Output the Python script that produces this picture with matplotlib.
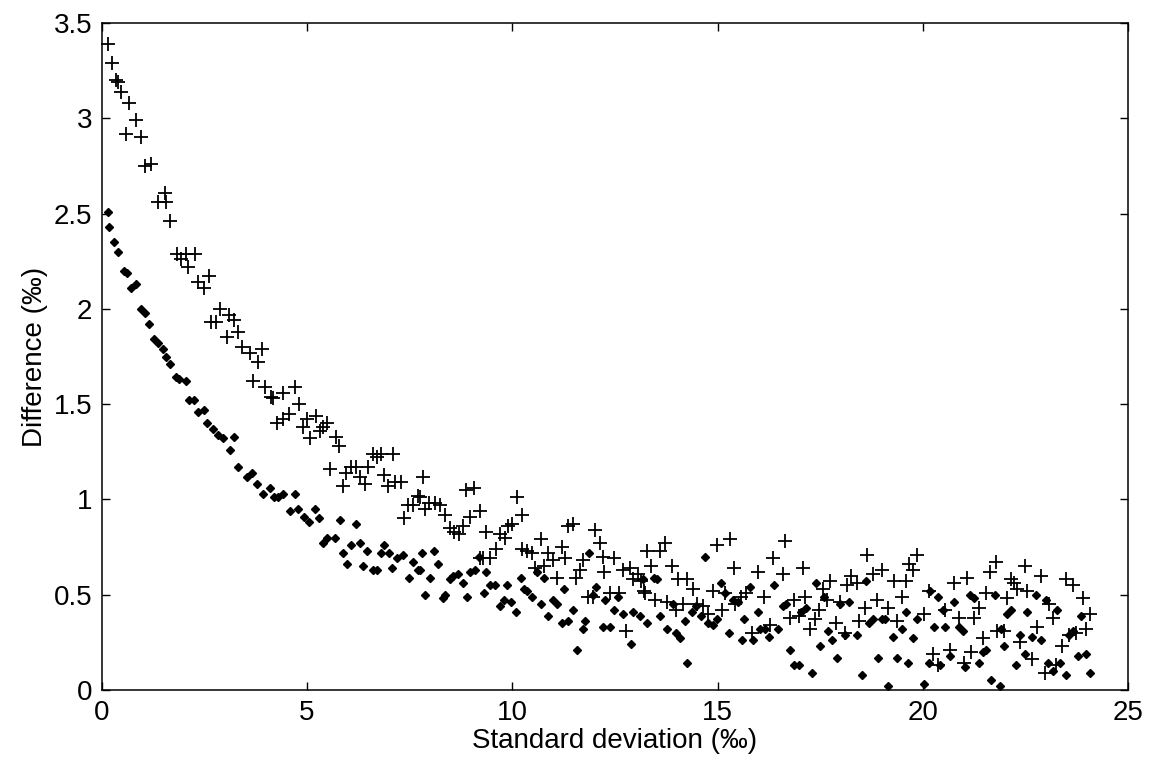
import matplotlib.pyplot as plt

# "+" series
plus_x = [0.15, 0.25, 0.35, 0.40, 0.47, 0.66, 0.84, 0.59, 0.95, 1.04, 1.19, 1.53, 1.37, 1.57, 1.65,
          1.83, 2.04, 2.26, 1.92, 2.10, 2.35, 2.48, 2.61, 2.88, 3.10, 3.23, 2.65, 2.79, 3.05, 3.32, 3.41,
          3.61, 3.91, 3.81, 3.69, 3.97, 4.13, 4.17, 4.42, 4.70, 4.81, 4.27, 4.42, 4.57, 4.91, 4.99, 5.22,
          5.07, 5.31, 5.39, 5.49, 5.70, 5.78, 5.57, 5.88, 5.96, 6.08, 6.19, 6.49, 6.29, 6.41, 6.60, 6.70,
          6.79, 7.10, 6.87, 6.98, 7.14, 7.30, 7.36, 7.47, 7.59, 7.71,
          7.83, 7.75, 7.87, 7.97, 8.11, 8.25, 8.36, 8.48, 8.58, 8.71, 8.81, 8.87, 9.07, 8.97, 9.21, 9.37,
          9.28, 9.45, 9.21, 9.60, 9.70, 9.82, 9.90, 10.0, 10.11, 10.23, 10.23, 10.35, 10.47, 10.55, 10.69,
          10.77, 10.88, 11.0, 11.08, 11.2, 11.28, 11.36, 11.48, 11.55, 11.65, 11.73, 11.85, 11.96,
          12.01, 12.13, 12.21, 12.23, 12.48, 12.38, 12.60, 12.69, 12.87, 12.95, 13.07, 13.13, 13.21, 13.28,
          13.37, 13.48, 13.60, 13.72, 13.78, 13.88, 13.99, 14.04, 14.16, 14.26, 14.41, 14.50, 14.65, 14.77,
          14.88, 14.98, 15.10, 15.18, 15.30, 15.40, 15.42, 15.58, 15.70, 15.85, 15.99, 12.77, 13.24,
          16.13, 16.36, 16.59, 16.64, 16.28, 16.85, 16.77, 16.99, 17.13, 17.07, 17.25, 17.37, 17.48, 17.56,
          17.66, 17.74, 17.88, 17.98, 18.10, 18.16, 18.26, 18.39, 18.45, 18.59, 18.65, 18.78, 18.88, 19.0,
          19.16, 19.29, 19.37, 19.49, 19.58, 19.66, 19.76, 19.87, 20.02, 20.16,
          20.26, 20.38, 20.54, 20.66, 20.76, 20.89, 21.0, 21.07, 21.17, 21.25, 21.38, 21.47, 21.54, 21.64,
          21.78, 21.80, 21.98, 22.06, 22.14, 22.22, 22.29, 22.37, 22.49, 22.54, 22.67, 22.77, 22.89, 22.98,
          23.08, 23.18, 23.24, 23.38, 23.48, 23.57, 23.66, 23.74, 23.89, 23.97, 24.07]
plus_y = [3.39, 3.29, 3.20, 3.19, 3.14, 3.08, 2.99, 2.92, 2.90, 2.75, 2.76, 2.61, 2.56, 2.56, 2.46,
          2.29, 2.29, 2.29, 2.26, 2.22, 2.14, 2.11, 2.17, 2.00, 1.97, 1.94, 1.93, 1.93, 1.85, 1.88, 1.80,
          1.77, 1.79, 1.72, 1.62, 1.59, 1.54, 1.53, 1.56, 1.59, 1.50, 1.40, 1.42, 1.45, 1.38, 1.42, 1.44,
          1.32, 1.36, 1.38, 1.40, 1.33, 1.28, 1.16, 1.07, 1.14, 1.17, 1.17, 1.17, 1.12, 1.08, 1.24, 1.22,
          1.24, 1.24, 1.13, 1.07, 1.09, 1.09, 0.90, 0.97, 0.97, 1.02,
          1.12, 1.01, 0.95, 0.98, 0.98, 0.97, 0.92, 0.85, 0.83, 0.82, 0.86, 1.05, 1.06, 0.91, 0.94, 0.83,
          0.69, 0.69, 0.69, 0.74, 0.82, 0.80, 0.86, 0.87, 1.01, 0.92, 0.74, 0.73, 0.72, 0.64, 0.79,
          0.65, 0.72, 0.68, 0.59, 0.75, 0.69, 0.86, 0.87, 0.59, 0.63, 0.68, 0.49, 0.49,
          0.84, 0.77, 0.70, 0.62, 0.69, 0.51, 0.51, 0.63, 0.64, 0.58, 0.61, 0.57, 0.52, 0.73,
          0.65, 0.47, 0.73, 0.77, 0.46, 0.65, 0.42, 0.58, 0.45, 0.58, 0.53, 0.45, 0.44, 0.40,
          0.52, 0.76, 0.42, 0.51, 0.79, 0.64, 0.45, 0.49, 0.51, 0.30, 0.62, 0.31, 0.51,
          0.49, 0.69, 0.61, 0.78, 0.34, 0.47, 0.38, 0.39, 0.49, 0.64, 0.32, 0.37, 0.42, 0.53,
          0.47, 0.57, 0.35, 0.46, 0.30, 0.55, 0.60, 0.56, 0.36, 0.43, 0.71, 0.61, 0.47, 0.63,
          0.43, 0.57, 0.36, 0.49, 0.57, 0.66, 0.63, 0.71, 0.40, 0.52,
          0.19, 0.13, 0.42, 0.21, 0.56, 0.38, 0.14, 0.59, 0.20, 0.38, 0.43, 0.27, 0.51, 0.62,
          0.67, 0.31, 0.31, 0.48, 0.58, 0.56, 0.53, 0.25, 0.65, 0.52, 0.16, 0.33, 0.60, 0.09,
          0.45, 0.38, 0.13, 0.23, 0.58, 0.29, 0.55, 0.30, 0.48, 0.32, 0.40]

# filled diamond series
dot_x = [0.15, 0.18, 0.29, 0.40, 0.53, 0.62, 0.71, 0.84, 0.95, 1.04, 1.15, 1.27, 1.37, 1.48, 1.57,
         1.65, 1.80, 1.88, 2.04, 2.12, 2.24, 2.35, 2.48, 2.57, 2.70, 2.83, 2.96, 3.12, 3.21, 3.32, 3.54,
         3.67, 3.79, 3.93, 4.10, 4.19, 4.30, 4.42, 4.70, 4.58, 4.78, 4.92, 5.05, 5.19, 5.30, 5.80, 6.19,
         5.38, 5.49, 5.68, 5.88, 6.08, 6.29, 5.98, 6.37, 6.47, 6.60, 6.70, 6.87, 6.81, 7.00, 7.08, 7.18,
         7.33, 7.49, 7.59, 7.71,
         7.81, 7.75, 7.87, 7.99, 8.09, 8.20, 8.30, 8.36, 8.48, 8.56, 8.68, 8.81, 8.89, 8.97, 9.09, 9.19,
         9.31, 9.37, 9.45, 9.57, 9.70, 9.80, 9.88, 9.98, 10.09, 10.20, 10.28, 10.36, 10.49, 10.59, 10.69,
         10.77, 10.88, 10.98, 11.08, 11.20, 11.36, 11.26, 11.48, 11.58, 11.71, 11.77, 11.88,
         11.97, 12.05, 12.25, 12.21, 12.38, 12.48, 12.58, 12.70, 12.88, 12.95, 13.10, 13.19, 13.29,
         13.45, 13.52, 13.60, 13.76, 13.91, 13.99, 14.09, 14.21, 14.26, 14.37, 14.47, 14.59, 14.70, 14.77,
         14.88, 14.98, 15.08, 15.18, 15.29, 15.38, 15.50, 15.59, 15.65, 15.78, 15.87, 15.99,
         16.03, 16.15, 16.26, 16.37, 16.48, 16.59, 16.67, 16.77, 16.87, 16.98, 17.04, 17.15, 17.29, 17.40,
         17.50, 17.60, 17.68, 17.78, 17.91, 17.99, 18.11, 18.21, 18.40, 18.52, 18.62, 18.68, 18.78, 18.91,
         19.00, 19.08, 19.16, 19.27, 19.37, 19.49, 19.59, 19.65, 19.77, 19.87, 20.02, 20.16,
         20.18, 20.38, 20.28, 20.42, 20.50, 20.54, 20.66, 20.76, 20.87, 20.98, 21.03, 21.15, 21.24, 21.38,
         21.47, 21.54, 21.65, 21.76, 21.87, 21.90, 21.98, 22.06, 22.14, 22.28, 22.37, 22.49, 22.54, 22.65,
         22.75, 22.89, 22.99, 23.05, 23.18, 23.26, 23.35, 23.48, 23.57, 23.66, 23.78, 23.86, 23.98, 24.07]
dot_y = [2.51, 2.43, 2.35, 2.30, 2.20, 2.19, 2.11, 2.13, 2.00, 1.98, 1.92, 1.84, 1.82, 1.79, 1.75,
         1.71, 1.64, 1.63, 1.62, 1.52, 1.52, 1.46, 1.47, 1.40, 1.37, 1.34, 1.32, 1.26, 1.33, 1.17, 1.12,
         1.14, 1.08, 1.03, 1.06, 1.01, 1.01, 1.03, 1.03, 0.94, 0.95, 0.91, 0.88, 0.95, 0.90, 0.89, 0.87,
         0.77, 0.80, 0.80, 0.72, 0.76, 0.77, 0.66, 0.65, 0.73, 0.63, 0.63, 0.76, 0.72, 0.72, 0.64, 0.69,
         0.71, 0.59, 0.67, 0.63,
         0.72, 0.63, 0.50, 0.59, 0.73, 0.66, 0.48, 0.50, 0.58, 0.60, 0.61, 0.56, 0.49, 0.62, 0.63, 0.70,
         0.51, 0.62, 0.55, 0.55, 0.44, 0.47, 0.55, 0.46, 0.41, 0.59, 0.53, 0.52, 0.49, 0.62, 0.45,
         0.59, 0.39, 0.47, 0.45, 0.35, 0.36, 0.53, 0.42, 0.21, 0.32, 0.36, 0.72,
         0.50, 0.54, 0.47, 0.33, 0.33, 0.42, 0.49, 0.40, 0.24, 0.41, 0.39, 0.58, 0.35,
         0.59, 0.58, 0.39, 0.32, 0.45, 0.30, 0.27, 0.36, 0.14, 0.41, 0.44, 0.39, 0.70, 0.35,
         0.34, 0.37, 0.56, 0.51, 0.30, 0.47, 0.46, 0.26, 0.37, 0.54, 0.26, 0.41,
         0.32, 0.32, 0.28, 0.55, 0.32, 0.44, 0.45, 0.21, 0.13, 0.13, 0.41, 0.43, 0.09, 0.56,
         0.23, 0.49, 0.31, 0.26, 0.17, 0.45, 0.29, 0.46, 0.29, 0.08, 0.57, 0.35, 0.37, 0.17,
         0.37, 0.37, 0.02, 0.28, 0.17, 0.32, 0.41, 0.14, 0.27, 0.37, 0.03, 0.14,
         0.52, 0.49, 0.33, 0.13, 0.42, 0.33, 0.18, 0.46, 0.33, 0.31, 0.12, 0.50, 0.48, 0.14,
         0.20, 0.21, 0.05, 0.50, 0.02, 0.32, 0.23, 0.40, 0.42, 0.13, 0.29, 0.19, 0.41, 0.28,
         0.50, 0.26, 0.47, 0.14, 0.10, 0.42, 0.14, 0.08, 0.29, 0.31, 0.18, 0.39, 0.19, 0.09]

x_ticks = [0, 5, 10, 15, 20, 25]
y_ticks = [0, 0.5, 1, 1.5, 2, 2.5, 3, 3.5]
y_tick_labels = ['0', '0.5', '1', '1.5', '2', '2.5', '3', '3.5']

plt.rcParams['font.family'] = ['Liberation Sans', 'DejaVu Sans']

fig = plt.figure(figsize=(11.57, 7.70), dpi=100)
ax = fig.add_axes([0.088, 0.104, 0.887, 0.866])

ax.plot(plus_x, plus_y, linestyle='none', marker='+', color='black',
        markersize=10, markeredgewidth=1.3, clip_on=False)
ax.plot(dot_x, dot_y, linestyle='none', marker='D', color='black',
        markersize=4, clip_on=False)

ax.set_xlim(0, 25)
ax.set_ylim(0, 3.5)
ax.set_xticks(x_ticks)
ax.set_yticks(y_ticks)
ax.set_yticklabels(y_tick_labels)
ax.tick_params(direction='in', length=6, width=1, top=True, right=True,
               labelsize=20, pad=7)
for sp in ax.spines.values():
    sp.set_linewidth(1.1)

ax.set_xlabel('Standard deviation (‰)', fontsize=20, labelpad=2)
ax.set_ylabel('Difference (‰)', fontsize=20, labelpad=4)

fig.savefig('out.png', dpi=100)
